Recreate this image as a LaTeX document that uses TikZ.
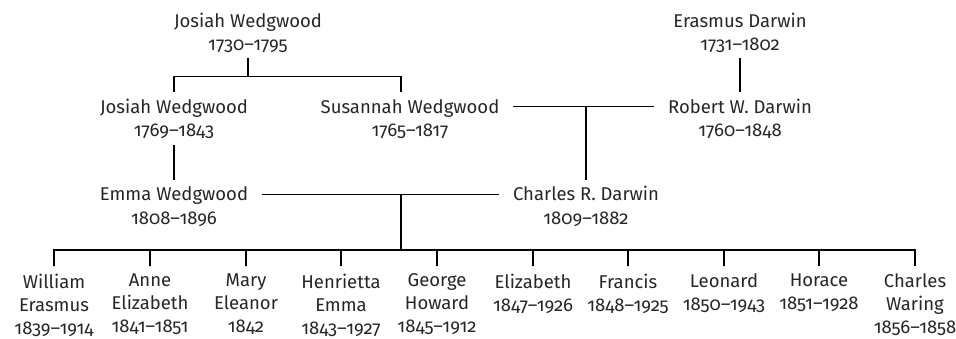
\documentclass[tikz,border=0pt]{standalone}
\usepackage{fontspec}
\setmainfont{Fira Sans}[Numbers=OldStyle]
\begin{document}
\begin{tikzpicture}[x=1pt,y=1pt,
  txt/.style={inner sep=0pt, outer ysep=8pt, outer xsep=14pt, text height=13pt, text depth=0pt,
    font=\fontsize{18.5}{23.3}\selectfont, text=black!85},
  kid/.style={inner sep=0pt, outer ysep=8pt, anchor=north, align=center,
    font=\fontsize{18.5}{22.8}\selectfont, text=black!85},
  link/.style={line width=1.3pt, black}]
\useasboundingbox (0,0) rectangle (956,-338);
% generation 1
\node[txt] (jw1) at (248,-20.5) {Josiah Wedgwood};
\node[txt] (jw1y) at (248,-43.8) {1730–1795};
\node[txt] (ed) at (740,-20.5) {Erasmus Darwin};
\node[txt] (edy) at (740,-43.8) {1731–1802};
% generation 2
\node[txt] (jw2) at (174,-106.8) {Josiah Wedgwood};
\node[txt] (jw2y) at (174,-130) {1769–1843};
\node[txt] (sw) at (410,-106.8) {Susannah Wedgwood};
\node[txt] (swy) at (410,-130) {1765–1817};
\node[txt] (rd) at (740,-106.8) {Robert W. Darwin};
\node[txt] (rdy) at (740,-130) {1760–1848};
% generation 3
\node[txt] (em) at (174,-194.2) {Emma Wedgwood};
\node[txt] (emy) at (174,-217.5) {1808–1896};
\node[txt] (cd) at (586,-194.2) {Charles R. Darwin};
\node[txt] (cdy) at (586,-217.5) {1809–1882};
% children
\node[kid] (c1) at (54,-266) {William\\Erasmus\\1839–1914};
\node[kid] (c2) at (150,-266) {Anne\\Elizabeth\\1841–1851};
\node[kid] (c3) at (246,-266) {Mary\\Eleanor\\1842};
\node[kid] (c4) at (341,-266) {Henrietta\\Emma\\1843–1927};
\node[kid] (c5) at (437,-266) {George\\Howard\\1845–1912};
\node[kid] (c6) at (533,-266) {Elizabeth\\1847–1926};
\node[kid] (c7) at (628,-266) {Francis\\1848–1925};
\node[kid] (c8) at (724,-266) {Leonard\\1850–1943};
\node[kid] (c9) at (819,-266) {Horace\\1851–1928};
\node[kid] (c10) at (915,-266) {Charles\\Waring\\1856–1858};
% junctions
\coordinate (t1) at (248,-76.5);
\coordinate (m1) at (cd |- sw);
\coordinate (m2) at (401,-194.2);
\coordinate (bar) at (401,-250);
% connectors
\draw[link] (jw1y.south) -- (t1);
\draw[link] (jw2.north) |- (t1) -| ([xshift=-9pt]sw.north);
\draw[link] (edy.south) -- (rd.north);
\draw[link] (sw.east) -- (rd.west);
\draw[link] (m1) -- (cd.north);
\draw[link] (jw2y.south) -- (em.north);
\draw[link] (em.east) -- (cd.west);
\draw[link] (m2) -- (bar);
\draw[link] (c1.north) |- (bar) -| (c10.north);
\foreach \k in {2,...,9} \draw[link] (c\k.north) -- (c\k.north |- bar);
\end{tikzpicture}
\end{document}
